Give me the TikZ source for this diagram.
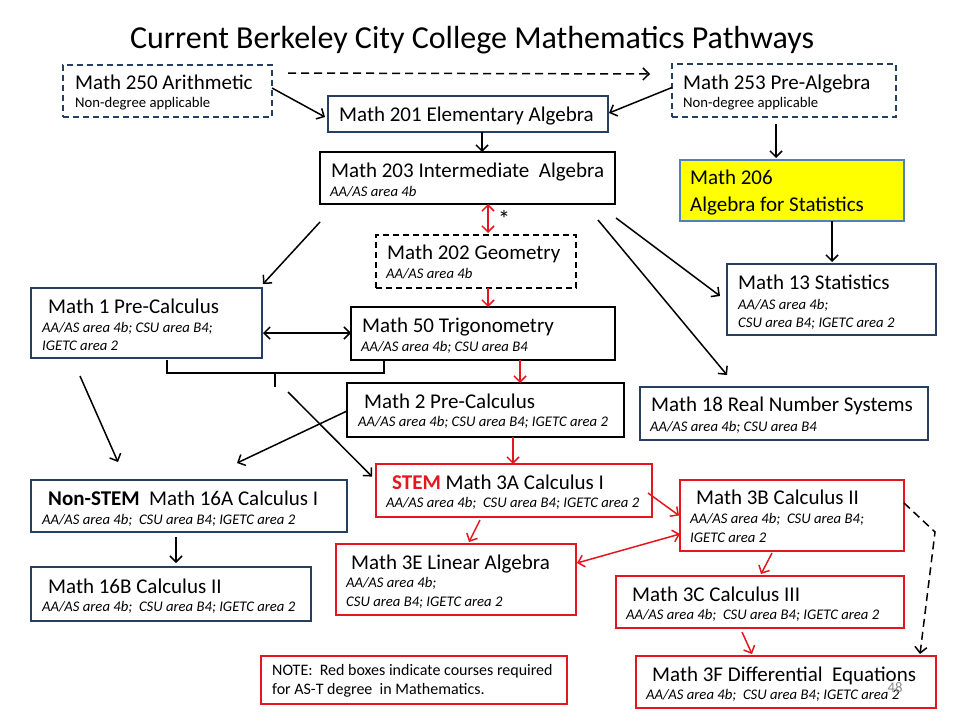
\documentclass[tikz,border=0pt]{standalone}
\usepackage{fontspec}
\setmainfont{Carlito}
\usetikzlibrary{arrows.meta,calc}
\definecolor{navy}{RGB}{36,63,96}
\definecolor{cred}{RGB}{228,22,30}
\definecolor{sblue}{RGB}{79,129,189}
\definecolor{ylw}{RGB}{255,255,0}
\newcommand\mainfs{\fontsize{21}{25}\selectfont}
\newcommand\subfs{\fontsize{14.7}{17}\selectfont}
\newcommand\notefs{\fontsize{16}{19}\selectfont}
\newcommand\titlefs{\fontsize{32}{38}\selectfont}
\newcommand\bx[6]{\node[#6, minimum width={(#4)-(#2)}, minimum height={(#5)-(#3)}, anchor=north west] (#1) at (#2,#3) {};}
\begin{document}
\begin{tikzpicture}[x=1pt,y=-1pt,
 box/.style={draw, line width=1.8pt, inner sep=0pt, outer sep=0pt},
 nbox/.style={box, draw=navy},
 bbox/.style={box, draw=black},
 rbox/.style={box, draw=cred},
 dbox/.style={dash pattern=on 6pt off 4pt},
 mt/.style={anchor=west, inner sep=0pt, font=\mainfs, text height=13.5pt, text depth=0pt},
 st/.style={anchor=west, inner sep=0pt, font=\subfs\itshape, text height=9.4pt, text depth=0pt},
 su/.style={anchor=west, inner sep=0pt, font=\subfs, text height=9.4pt, text depth=0pt},
 nt/.style={anchor=west, inner sep=0pt, font=\notefs, text height=10.3pt, text depth=0pt},
 tip/.tip={Straight Barb[length=6pt,width=12pt]},
 arr/.style={line width=1.5pt, -tip},
 darr/.style={line width=1.5pt, tip-tip},
 rarr/.style={arr, draw=cred},
 rdarr/.style={darr, draw=cred},
 dsh/.style={dash pattern=on 8pt off 5pt},
]
\useasboundingbox[fill=white] (0,0) rectangle (960,720);

\node[anchor=center, inner sep=0pt, font=\titlefs, text height=20.6pt, text depth=0pt] (title) at (472,38) {Current Berkeley City College Mathematics Pathways};

% boxes
\bx{m250}{63}{65}{272}{117}{nbox,dbox}
\bx{m253}{672}{64}{896}{117}{nbox,dbox}
\bx{m201}{328}{96}{608}{132}{nbox}
\bx{m203}{320}{152}{615}{204}{bbox}
\bx{m206}{680}{160}{904}{221}{box,line width=1.5pt,draw=sblue,fill=ylw}
\bx{m202}{376}{235}{576}{288}{bbox,dbox}
\bx{m13}{727}{264}{936}{335}{nbox}
\bx{m1}{31}{288}{262}{358}{nbox}
\bx{m50}{351}{307}{615}{360}{bbox}
\bx{m2}{347}{383}{624}{437}{bbox}
\bx{m18}{640}{387}{928}{440}{nbox}
\bx{m16a}{31}{480}{347}{532}{nbox}
\bx{m3a}{376}{464}{652}{517}{rbox}
\bx{m3b}{680}{480}{904}{551}{rbox}
\bx{m3e}{336}{544}{576}{615}{rbox}
\bx{m16b}{31}{567}{311}{621}{nbox}
\bx{m3c}{616}{576}{904}{628}{rbox}
\bx{note}{261}{656}{567}{704}{rbox}
\bx{m3f}{636}{656}{936}{708}{rbox}

% texts
\node[mt] (t250) at (75,83) {Math 250 Arithmetic};
\node[su] (s250) at (75,103) {Non-degree applicable};
\node[mt] (t253) at (683,83) {Math 253 Pre-Algebra};
\node[su] (s253) at (683,103) {Non-degree applicable};
\node[mt] (t201) at (339,115) {Math 201 Elementary Algebra};
\node[mt] (t203) at (331,171) {Math 203 Intermediate\ \ Algebra};
\node[st] (s203) at (330,192) {AA/AS area 4b};
\node[mt] (t206a) at (690,178) {Math 206};
\node[mt] (t206b) at (690,205) {Algebra for Statistics};
\node[mt] (t202) at (387,253) {Math 202 Geometry};
\node[st] (s202) at (386,274) {AA/AS area 4b};
\node[mt] (t13) at (738,283) {Math 13 Statistics};
\node[st] (s13a) at (738,305) {AA/AS area 4b;};
\node[st] (s13b) at (738,323) {CSU area B4; IGETC area 2};
\node[mt] (t1) at (48,307) {Math 1 Pre-Calculus};
\node[st] (s1a) at (42,328) {AA/AS area 4b; CSU area B4;};
\node[st] (s1b) at (42,346) {IGETC area 2};
\node[mt] (t50) at (362,326) {Math 50 Trigonometry};
\node[st] (s50) at (361,347) {AA/AS area 4b; CSU area B4};
\node[mt] (t2) at (364,402) {Math 2 Pre-Calculus};
\node[st] (s2) at (358,422) {AA/AS area 4b; CSU area B4; IGETC area 2};
\node[mt] (t18) at (651,405) {Math 18 Real Number Systems};
\node[st] (s18) at (650,427) {AA/AS area 4b; CSU area B4};
\node[mt] (t16a) at (48,499) {\textbf{Non-STEM}\ \ Math 16A Calculus I};
\node[st] (s16a) at (42,520) {AA/AS area 4b;\ \ CSU area B4; IGETC area 2};
\node[mt] (t3a) at (392,483) {\textcolor{cred}{\textbf{STEM}} Math 3A Calculus I};
\node[st] (s3a) at (386,503) {AA/AS area 4b;\ \ CSU area B4; IGETC area 2};
\node[mt] (t3b) at (696,498) {Math 3B Calculus II};
\node[st] (s3b1) at (690,519) {AA/AS area 4b;\ \ CSU area B4;};
\node[st] (s3b2) at (690,538) {IGETC area 2};
\node[mt] (t3e) at (351,563) {Math 3E Linear Algebra};
\node[st] (s3e1) at (346,583) {AA/AS area 4b;};
\node[st] (s3e2) at (346,602) {CSU area B4; IGETC area 2};
\node[mt] (t16b) at (48,587) {Math 16B Calculus II};
\node[st] (s16b) at (42,607) {AA/AS area 4b;\ \ CSU area B4; IGETC area 2};
\node[mt] (t3c) at (632,595) {Math 3C Calculus III};
\node[st] (s3c) at (626,615) {AA/AS area 4b;\ \ CSU area B4; IGETC area 2};
\node[nt] (n1) at (272,670) {NOTE:\ \ Red boxes indicate courses required};
\node[nt] (n2) at (272,689) {for AS-T degree\ \ in Mathematics.};
\node[mt] (t3f) at (652,675) {Math 3F Differential\ \ Equations};
\node[st] (s3f) at (646,695) {AA/AS area 4b;\ \ CSU area B4; IGETC area 2};
\node[anchor=center, inner sep=0pt, font=\subfs, text=black!45] (pg) at (895,688) {48};
\node[anchor=base, inner sep=0pt, font=\fontsize{24}{26}\selectfont] (ast) at (504,227) {*};

% brace
\coordinate (brL) at (167,360);
\coordinate (brR) at (384,360);
\coordinate (brM) at (275,373);
\coordinate (brT) at (275,387);
\coordinate (brS) at (288,392);
\coordinate (dcorner) at (935,532);
\draw[line width=1.5pt] (brL) -- (brL |- brM) -- (brR |- brM) -- (brR);
\draw[line width=1.5pt] (brM) -- (brT);

% connectors
\draw[arr,dsh] ($(m250.north east)+(16,8)$) -- ($(m253.north west)+(-22,10)$);
\draw[arr] ($(m250.east)+(0,-3)$) -- ($(m201.west)+(-3,3)$);
\draw[arr] ($(m253.west)+(0,-3)$) -- ($(m201.east)+(1,-1)$);
\draw[arr] ($(m201.south)+(14,0)$) -- ($(m203.north)+(14.5,0)$);
\draw[arr] ($(m253.south)+(-8,7)$) -- ($(m206.north)+(-16,-2)$);
\draw[arr] ($(m206.south)+(40,0)$) -- ($(m13.north)+(0.5,-2)$);
\draw[rdarr] ($(m203.south)+(20.5,0)$) -- ($(m202.north)+(12,-2)$);
\draw[rarr] ($(m202.south)+(12,0)$) -- ($(m50.north)+(5,0)$);
\draw[arr] ($(m203.south west)+(0,18)$) -- ($(m1.north east)+(1,-4)$);
\draw[darr] ($(m1.east)+(1,10)$) -- ($(m50.west)+(0,-0.5)$);
\draw[arr] ($(m1.south west)+(49,18)$) -- ($(m16a.north west)+(87,-18)$);
\draw[arr] (brS) -- ($(m3a.west)+(-4,-14)$);
\draw[arr] ($(m2.west)+(0,1)$) -- ($(m16a.north)+(48,-17)$);
\draw[rarr] ($(m50.south)+(37,0)$) -- ($(m2.north)+(34.5,0)$);
\draw[rarr] ($(m2.south)+(27.5,0)$) -- ($(m3a.north)+(-1,0)$);
\draw[arr] ($(m203.south east)+(1,14)$) -- ($(m13.west)+(-7,-3.5)$);
\draw[arr] ($(m203.south east)+(-17,16)$) -- ($(m18.north)+(-57,-12)$);
\draw[arr] ($(m16a.south)+(-13,5)$) -- ($(m16b.north)+(5,-4)$);
\draw[rarr] ($(m3a.east)+(-4,2.5)$) -- ($(m3b.west)+(-1,0)$);
\draw[rarr] ($(m3a.south)+(-34,3)$) -- ($(m3e.north)+(13,-2)$);
\draw[rdarr] ($(m3e.east)+(1,-16.5)$) -- ($(m3b.west)+(0,18.5)$);
\draw[rarr] ($(m3b.south)+(-20,2)$) -- ($(m3c.north)+(1,-2)$);
\draw[rarr] ($(m3c.south)+(-18,4)$) -- ($(m3f.north)+(-34,-2)$);
\draw[arr,dsh] ($(m3b.north east)+(0,23)$) -- (dcorner) -- ($(m3f.north east)+(-16,-2)$);
\end{tikzpicture}
\end{document}
